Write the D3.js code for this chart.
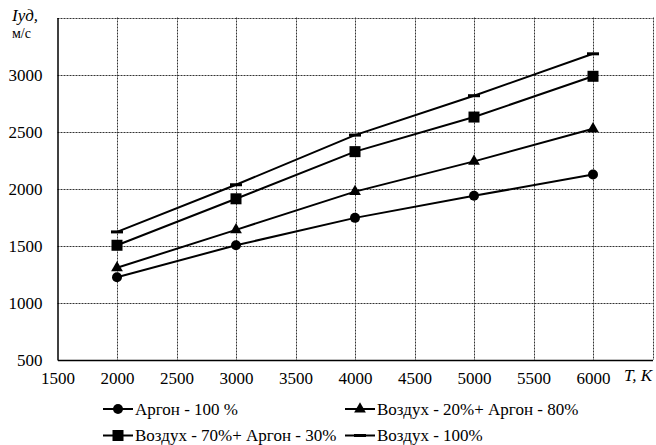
<!DOCTYPE html>
<html>
<head>
<meta charset="utf-8">
<script src="https://cdn.jsdelivr.net/npm/d3@7"></script>
<style>
  body { margin: 0; background: #fff; }
  svg text { font-family: "Liberation Serif", "DejaVu Serif", serif; fill: #000; }
</style>
</head>
<body>
<div id="chart"></div>
<script>
// data
var temps = [2000, 3000, 4000, 5000, 6000];
var argon100 = [1225, 1505, 1745, 1938, 2125];
var air20argon80 = [1308, 1640, 1975, 2240, 2525];
var air70argon30 = [1505, 1912, 2325, 2628, 2985];
var air100 = [1622, 2035, 2470, 2815, 3182];
var xTicks = [1500, 2000, 2500, 3000, 3500, 4000, 4500, 5000, 5500, 6000];
var yTicks = [500, 1000, 1500, 2000, 2500, 3000];

var series = [
  { label: "Аргон - 100 %", values: argon100, marker: "circle" },
  { label: "Воздух - 20%+ Аргон - 80%", values: air20argon80, marker: "triangle" },
  { label: "Воздух - 70%+ Аргон - 30%", values: air70argon30, marker: "square" },
  { label: "Воздух - 100%", values: air100, marker: "dash" }
];

var W = 656, H = 445;
var plotL = 57.5, plotR = 652.5, plotT = 17.5, plotB = 360;
var serif = "Liberation Serif";

var svg = d3.select("#chart").append("svg").attr("width", W).attr("height", H)
  .style("font-family", serif);

var x = d3.scaleLinear().domain([1500, 6500]).range([plotL, plotR]);
var y = d3.scaleLinear().domain([500, 3500]).range([plotB, plotT]);

// grid (dotted, also forms the top and right edge)
var grid = svg.append("g");
grid.selectAll(".vg").data(d3.range(2000, 6501, 500)).enter().append("line")
  .attr("x1", d => Math.round(x(d)) + 0.5).attr("x2", d => Math.round(x(d)) + 0.5)
  .attr("y1", plotT).attr("y2", plotB)
  .attr("stroke", "#333").attr("stroke-width", 1).attr("stroke-dasharray", "2,1");
grid.selectAll(".hg").data(d3.range(1000, 3501, 500)).enter().append("line")
  .attr("y1", d => Math.round(y(d)) + 0.5).attr("y2", d => Math.round(y(d)) + 0.5)
  .attr("x1", plotL).attr("x2", plotR)
  .attr("stroke", "#333").attr("stroke-width", 1).attr("stroke-dasharray", "2,1");

// axes
var xAxis = svg.append("g").attr("transform", "translate(0," + plotB + ")")
  .call(d3.axisBottom(x).tickValues(xTicks).tickSize(0).tickPadding(12).tickFormat(d3.format("d")));
var yAxis = svg.append("g").attr("transform", "translate(" + plotL + ",0)")
  .call(d3.axisLeft(y).tickValues(yTicks).tickSize(0).tickPadding(15).tickFormat(d3.format("d")));
xAxis.select(".domain").attr("stroke", "#000").attr("stroke-width", 1.5);
yAxis.select(".domain").attr("stroke", "#000").attr("stroke-width", 1.5);
svg.selectAll(".tick text").style("font-size", "17px").style("font-family", serif);

// lines
var line = d3.line().x((d, i) => x(temps[i])).y(d => y(d));
svg.selectAll(".series").data(series).enter().append("path")
  .attr("d", d => line(d.values))
  .attr("fill", "none").attr("stroke", "#000").attr("stroke-width", 2);

function drawMarker(g, type, cx, cy) {
  if (type === "circle") {
    g.append("circle").attr("cx", cx).attr("cy", cy).attr("r", 5).attr("fill", "#000");
  } else if (type === "square") {
    g.append("rect").attr("x", cx - 5.5).attr("y", cy - 5.5).attr("width", 11).attr("height", 11).attr("fill", "#000");
  } else if (type === "triangle") {
    g.append("path").attr("d", d3.symbol().type(d3.symbolTriangle).size(60)())
      .attr("transform", "translate(" + cx + "," + cy + ")").attr("fill", "#000");
  } else {
    g.append("rect").attr("x", cx - 6).attr("y", cy - 1.5).attr("width", 12).attr("height", 3).attr("fill", "#000");
  }
}

var marks = svg.append("g");
series.forEach(function (s) {
  s.values.forEach(function (v, i) { drawMarker(marks, s.marker, x(temps[i]), y(v)); });
});

// axis titles
svg.append("text").attr("x", 12).attr("y", 21).style("font-size", "17px").style("font-style", "italic").text("Iуд,");
svg.append("text").attr("x", 12).attr("y", 38).style("font-size", "14px").text("м/с");
svg.append("text").attr("x", 624).attr("y", 381).style("font-size", "17px").style("font-style", "italic").text("T, K");

// legend
var legendPos = [[103, 409], [345, 409], [103, 435.5], [345, 435.5]];
series.forEach(function (s, i) {
  var p = legendPos[i];
  var g = svg.append("g");
  g.append("line").attr("x1", p[0]).attr("x2", p[0] + 30).attr("y1", p[1]).attr("y2", p[1])
    .attr("stroke", "#000").attr("stroke-width", 2);
  drawMarker(g, s.marker, p[0] + 15, p[1]);
  g.append("text").attr("x", p[0] + 32).attr("y", p[1] + 5.5).style("font-size", "17px").text(s.label);
});
</script>
</body>
</html>
